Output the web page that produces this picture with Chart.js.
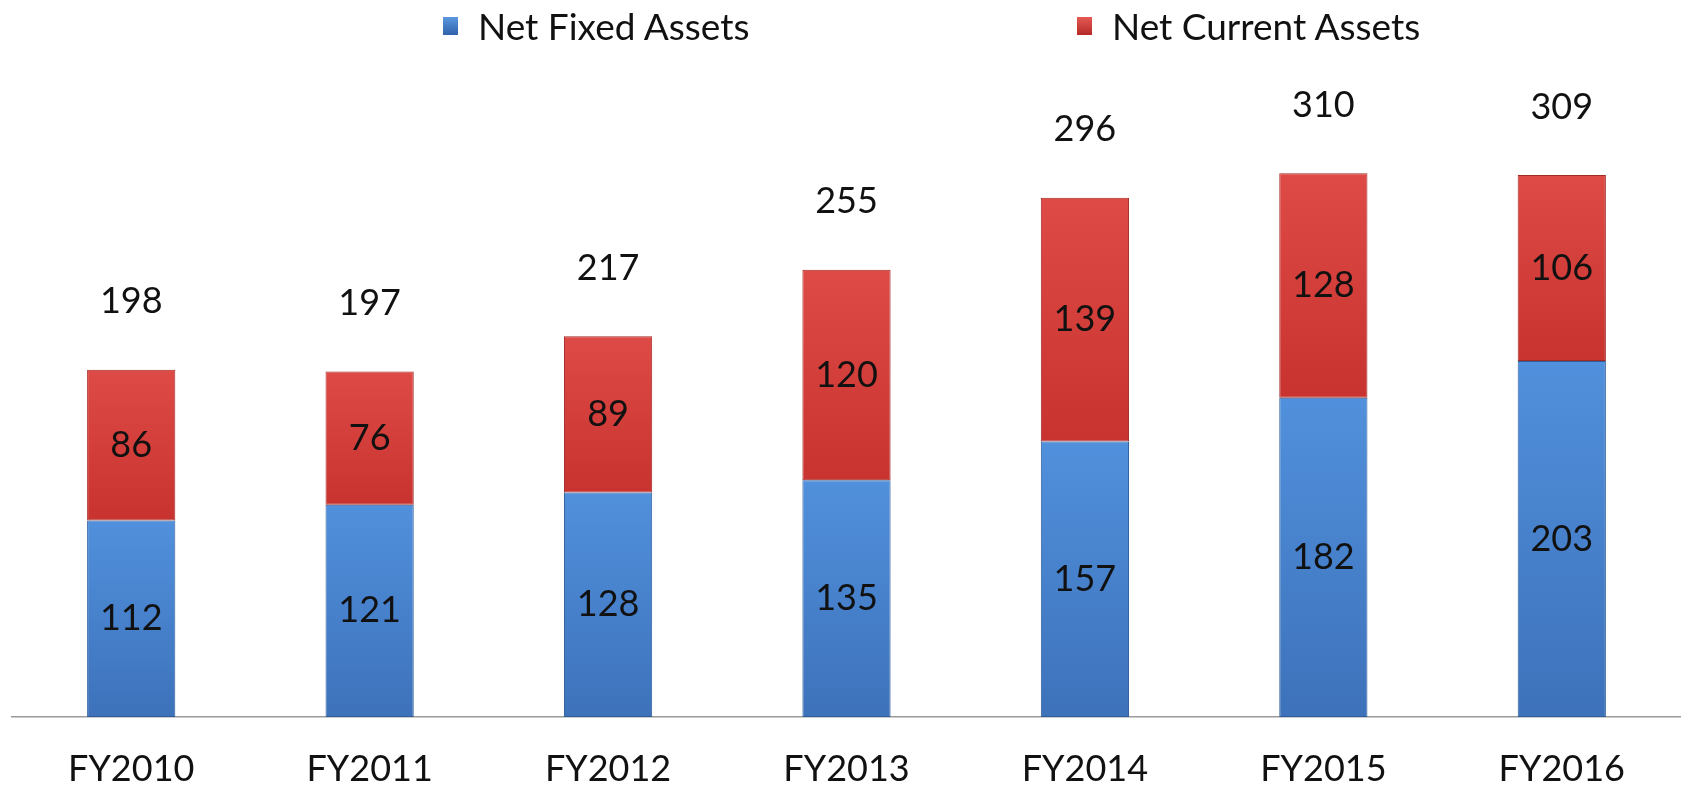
<!DOCTYPE html>
<html>
<head>
<meta charset="utf-8">
<script src="https://cdn.jsdelivr.net/npm/chart.js@4.4.1/dist/chart.umd.min.js"></script>
<style>
    html, body { margin: 0; padding: 0; background: #fff; }
    #wrap { position: relative; width: 1681px; height: 801px; }
    #legend { position: absolute; top: 0; left: 0; width: 1681px; height: 60px; font-family: Lato, sans-serif; font-size: 37px; color: #111; }
    .leg { position: absolute; top: 3px; display: flex; align-items: center; white-space: nowrap; }
    .leg .box { flex: 0 0 auto; width: 15px; height: 18px; margin-right: 20px; }
</style>
</head>
<body>
<div id="wrap">
    <canvas id="assetChart" width="1681" height="801"></canvas>
    <div id="legend">
        <div class="leg" style="left:443px;"><span class="box" style="background:linear-gradient(#5b97e0,#2f63aa);"></span>Net Fixed Assets</div>
        <div class="leg" style="left:1077px;"><span class="box" style="background:linear-gradient(#e65a55,#b52a27);"></span>Net Current Assets</div>
    </div>
</div>
<script>
const categories = ['FY2010', 'FY2011', 'FY2012', 'FY2013', 'FY2014', 'FY2015', 'FY2016'];
const netFixed = [112, 121, 128, 135, 157, 182, 203];
const netCurrent = [86, 76, 89, 120, 139, 128, 106];
const totals = [198, 197, 217, 255, 296, 310, 309];

const blueStops = ['#5190dc', '#3d72ba'];
const redStops = ['#de4a46', '#c8332f'];

// vertical gradient per bar segment, using the y scale
function barGradient(context, stops, baseArr, valArr) {
    const chart = context.chart;
    const { ctx, chartArea, scales } = chart;
    if (!chartArea || context.type !== 'data') return stops[0];
    const i = context.dataIndex;
    const base = baseArr ? baseArr[i] : 0;
    const yTop = scales.y.getPixelForValue(base + valArr[i]);
    const yBot = scales.y.getPixelForValue(base);
    if (!isFinite(yTop) || !isFinite(yBot) || yTop === yBot) return stops[0];
    const g = ctx.createLinearGradient(0, yTop, 0, yBot);
    g.addColorStop(0, stops[0]);
    g.addColorStop(1, stops[1]);
    return g;
}

const labelPlugin = {
    id: 'barLabels',
    afterDatasetsDraw(chart) {
        const ctx = chart.ctx;
        ctx.save();
        ctx.font = '36px Lato, sans-serif';
        ctx.fillStyle = '#111';
        ctx.textAlign = 'center';
        ctx.textBaseline = 'middle';
        chart.data.datasets.forEach((ds, di) => {
            const meta = chart.getDatasetMeta(di);
            meta.data.forEach((bar, i) => {
                ctx.fillText(ds.data[i], bar.x, (bar.y + bar.base) / 2);
            });
        });
        // totals above the stack
        const top = chart.getDatasetMeta(chart.data.datasets.length - 1);
        top.data.forEach((bar, i) => {
            ctx.fillText(totals[i], bar.x, bar.y - 68);
        });
        ctx.restore();
    }
};

new Chart(document.getElementById('assetChart').getContext('2d'), {
    type: 'bar',
    data: {
        labels: categories,
        datasets: [
            {
                label: 'Net Fixed Assets',
                data: netFixed,
                backgroundColor: c => barGradient(c, blueStops, null, netFixed),
                borderColor: '#2e5d9c',
                borderWidth: 1,
                borderSkipped: false
            },
            {
                label: 'Net Current Assets',
                data: netCurrent,
                backgroundColor: c => barGradient(c, redStops, netFixed, netCurrent),
                borderColor: '#a22a27',
                borderWidth: 1,
                borderSkipped: false
            }
        ]
    },
    options: {
        responsive: false,
        animation: false,
        layout: { padding: { top: 103, left: 12, right: 0, bottom: 10 } },
        datasets: { bar: { categoryPercentage: 1, barPercentage: 0.37 } },
        plugins: {
            legend: { display: false },
            tooltip: { enabled: false }
        },
        scales: {
            x: {
                stacked: true,
                grid: { display: false, drawTicks: false },
                border: { display: true, color: '#9a9a9a', width: 1.5 },
                ticks: { color: '#111', font: { family: 'Lato', size: 36 }, padding: 31 },
                afterFit: scale => { scale.height = 74; }
            },
            y: {
                stacked: true,
                display: false,
                min: 0,
                max: 350
            }
        }
    },
    plugins: [labelPlugin]
});
</script>
</body>
</html>
